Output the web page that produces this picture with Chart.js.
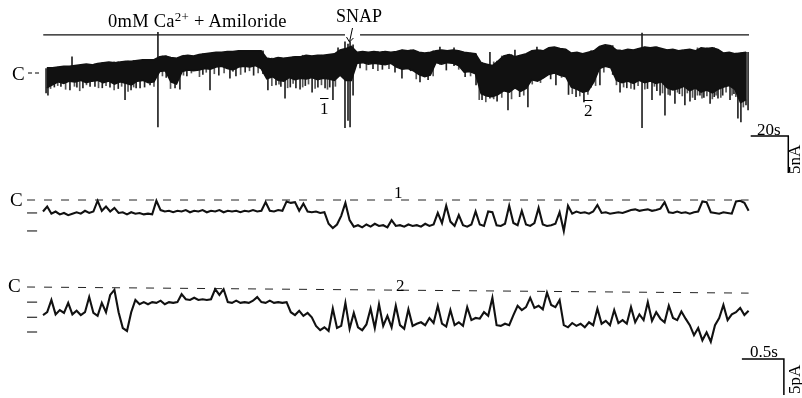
<!DOCTYPE html>
<html>
<head>
<meta charset="utf-8">
<script src="https://cdn.jsdelivr.net/npm/chart.js"></script>
<style>
body { margin: 0; background: #fff; }
#fig { position: relative; width: 802px; height: 398px; overflow: hidden; font-family: "Liberation Serif", "Times New Roman", serif; color: #000; }
.panel { position: absolute; left: 0; }
.lbl { position: absolute; line-height: 1; white-space: nowrap; }
.rot { transform: rotate(-90deg); transform-origin: left top; }
.ov { text-decoration: overline; }
sup { font-size: 70%; vertical-align: 0.5em; line-height: 0; }
</style>
</head>
<body>
<div id="fig">
  <div class="panel" style="top:0;width:802px;height:180px"><canvas id="topChart" width="802" height="180"></canvas></div>
  <div class="panel" style="top:180px;width:802px;height:70px"><canvas id="midChart" width="802" height="70"></canvas></div>
  <div class="panel" style="top:255px;width:802px;height:143px"><canvas id="botChart" width="802" height="143"></canvas></div>

  <div class="lbl" style="left:108px;top:12px;font-size:18.5px;letter-spacing:0.25px">0mM Ca<sup>2+</sup> + Amiloride</div>
  <div class="lbl" style="left:336px;top:7px;font-size:18px">SNAP</div>
  <div class="lbl" style="left:12px;top:64px;font-size:19px">C</div>
  <div class="lbl ov" style="left:320px;top:100px;font-size:17px">1</div>
  <div class="lbl ov" style="left:584px;top:102px;font-size:17px">2</div>
  <div class="lbl" style="left:757px;top:121px;font-size:17px">20s</div>
  <div class="lbl rot" style="left:786px;top:174px;font-size:17px">5nA</div>

  <div class="lbl" style="left:10px;top:190px;font-size:19px">C</div>
  <div class="lbl" style="left:394px;top:184px;font-size:17px">1</div>

  <div class="lbl" style="left:8px;top:276px;font-size:19px">C</div>
  <div class="lbl" style="left:396px;top:277px;font-size:17px">2</div>
  <div class="lbl" style="left:750px;top:343px;font-size:17px">0.5s</div>
  <div class="lbl rot" style="left:786px;top:394px;font-size:17px">5pA</div>
</div>
<script>
// ---- data: top record (nA), 3 s bins, band top / band bottom ----
var topBinSec = 3;
var topHi = [0.7,0.7,0.8,0.9,0.9,1.0,1.1,1.2,1.1,1.3,1.4,1.5,1.4,1.5,1.6,1.6,1.7,1.8,1.8,1.8,
  2.2,2.3,2.1,2.0,2.3,2.4,2.3,2.5,2.6,2.7,2.8,2.8,2.9,2.9,3.0,3.0,3.0,3.0,3.0,2.0,
  1.9,2.1,2.0,2.1,2.2,2.2,2.4,2.3,2.4,2.4,2.5,2.6,3.1,3.3,3.6,2.8,2.9,2.8,2.9,2.8,
  2.9,2.8,2.9,3.1,3.0,3.1,2.8,2.7,2.8,3.0,3.1,3.0,3.1,3.0,2.8,2.7,2.6,1.4,1.2,1.0,
  1.6,2.3,2.5,2.2,2.4,2.6,3.0,3.1,3.0,3.4,3.5,3.3,3.2,2.7,2.8,2.6,2.8,3.0,3.6,3.8,
  3.7,3.1,3.0,3.2,3.1,3.3,3.5,3.4,3.5,3.3,3.1,3.2,3.0,3.1,3.2,3.0,3.4,3.3,3.4,3.2,
  2.7,2.8,2.6,2.7,2.8];
var topLo = [-2.0,-1.6,-1.2,-1.4,-1.1,-1.2,-1.0,-1.3,-1.1,-1.0,-1.3,-1.1,-1.5,-1.2,-1.4,-1.6,-1.1,-1.0,-1.3,-1.2,
  0.2,0.3,-1.2,-1.5,0.2,0.4,0.3,0.4,0.6,0.5,0.8,0.9,0.6,0.4,0.8,0.9,0.8,1.0,0.6,-0.8,
  -0.5,-1.0,-1.1,-0.6,-0.9,-0.7,-0.8,-0.6,-0.9,-0.7,-0.8,-1.0,-0.3,-1.0,-1.0,1.3,1.4,1.2,1.3,1.2,
  1.1,1.3,0.8,0.5,0.6,0.3,-0.2,-0.5,-0.3,1.4,1.2,1.4,1.3,1.0,0.1,0.2,-0.1,-2.8,-3.1,-3.2,
  -2.9,-2.4,-2.6,-2.0,-2.5,-2.1,-0.9,-1.1,-0.7,-0.2,0.0,-0.3,-0.5,-1.9,-2.2,-2.6,-2.4,-1.2,0.6,0.9,
  0.7,-1.0,-1.3,-1.1,-1.4,-1.0,-1.3,-1.1,-1.4,-1.2,-2.0,-2.3,-2.1,-1.8,-2.4,-2.0,-2.6,-2.3,-2.7,-2.2,
  -1.9,-1.7,-2.2,-4.0,-3.6];

// single spikes / artefacts on the top record: time (s), bottom (nA), top (nA)
var spikeT  = [1.1,2.1,13.8,14.9,20.7,27.1,35.1,43.1,46.3,51.1,56.4,60.6,69.7,72.3,80.9,88.3,98.9,102.1,119.1,123.4,
  128.2,134.0,136.2,142.6,145.7,149.5,153.7,156.4,160.1,161.7,162.8,164.4,168.1,186.7,190.4,200.0,204.3,210.6,218.1,229.8,
  237.2,246.8,250.5,257.4,262.2,272.3,287.2,295.7,306.4,318.1,323.4,327.7,330.3,335.6,340.9,343.6,346.3,348.9,354.3,358.5,
  364.9,369.1,370.7,373.4,374.5,
  5.5,9.0,17.5,24.5,31.0,39.5,49.0,53.5,65.0,76.0,84.5,93.0,107.0,111.5,116.5,126.0,131.0,139.0,152.0,175.0,
  180.0,195.0,214.0,224.0,233.0,241.0,253.0,266.0,269.5,279.0,283.0,291.0,300.0,302.5,310.0,314.0,321.0,326.0,333.0,338.0,
  351.0,356.5,361.0,367.0];
var spikeLo = [-2.7,-3.0,-2.3,-0.3,-2.0,-1.8,-1.9,-3.6,-2.3,-2.0,-1.6,-7.3,-2.0,-2.2,0.3,-2.3,-0.7,-0.4,-2.3,-1.6,
  -3.4,-2.0,-2.2,-2.6,-1.9,-2.0,-3.6,-0.5,-7.4,-6.4,-7.3,-3.0,0.7,0.1,-0.7,-1.2,-0.9,1.2,1.0,-1.6,
  -3.4,-5.0,-2.0,-4.6,-0.8,-1.6,-3.9,-1.6,-2.6,-7.4,-3.6,-3.0,-5.7,-4.1,-4.3,-3.8,-3.6,-3.0,-4.1,-3.4,
  -3.6,-6.1,-6.6,-4.3,-5.0,
  -1.9,-1.8,-1.9,-1.8,-2.0,-2.1,-2.0,-1.9,-0.6,-0.4,-0.2,-0.3,0.1,-0.3,-0.1,-1.8,-1.9,-1.7,-1.9,0.6,
  0.5,0.3,0.4,-0.5,-3.6,-3.8,-3.2,-0.6,-0.8,-2.9,-3.2,-1.9,1.1,-0.2,-2.0,-2.2,-2.1,-2.4,-3.0,-2.8,
  -3.3,-3.2,-3.0,-2.8];
var spikeHi = [0.6,0.6,0.8,2.2,1.0,1.2,1.3,1.4,1.5,1.5,1.8,5.5,2.0,2.0,2.4,2.6,2.8,2.9,2.0,2.0,
  2.0,2.2,2.2,2.3,2.3,2.4,2.5,3.4,4.2,3.9,4.2,3.8,2.8,2.9,3.1,2.8,2.8,3.5,3.4,2.6,
  2.8,2.5,3.1,2.6,3.5,3.4,2.6,3.0,3.1,5.4,3.4,3.2,3.2,3.1,3.1,3.0,3.0,3.0,3.3,3.0,
  2.8,2.6,2.7,2.8,2.8,
  0.7,0.9,1.0,1.1,1.4,1.5,1.7,1.8,2.3,2.4,2.6,2.8,3.0,3.0,3.0,2.0,2.1,2.4,2.5,2.9,
  2.9,3.1,3.0,2.8,1.4,1.6,2.4,3.0,3.4,2.7,2.8,3.0,3.7,3.7,3.2,3.1,3.4,3.5,3.2,3.0,
  3.3,3.4,2.7,2.6];

// fainter short openings along the ragged lower edge of the top record
var fringeT  = [3.5,7.3,11.5,16.2,19.0,22.6,29.0,33.0,37.3,41.3,44.7,47.7,58.5,63.0,67.3,74.2,78.4,82.7,86.3,90.6,
  95.8,100.5,104.6,109.3,113.9,121.2,125.0,129.6,132.5,137.6,140.7,144.2,147.6,150.8,155.0,171.5,177.6,183.5,198.0,207.0,
  220.6,226.9,231.5,235.0,239.2,243.5,248.7,255.2,259.7,264.1,275.3,281.0,285.0,289.3,293.4,297.8,304.5,308.3,312.2,316.0,
  319.6,324.7,329.0,332.0,337.0,339.5,342.2,345.0,347.6,350.0,352.6,355.5,357.5,360.0,362.8,366.0,368.0,372.0];
var fringeLo = [-2.1,-1.7,-2.2,-1.8,-2.4,-1.6,-2.0,-1.7,-2.3,-1.8,-2.5,-1.9,-1.8,-0.4,-2.1,-0.3,0.0,-0.5,0.1,-0.1,
  0.0,0.2,-0.2,0.3,0.0,-1.7,-1.5,-2.0,-1.4,-1.9,-1.5,-2.1,-1.6,-2.2,-1.8,0.4,0.3,0.6,-0.8,-0.4,
  0.5,-0.4,-3.6,-3.9,-3.5,-3.3,-3.5,-3.0,-1.5,-1.3,-0.6,-2.8,-3.1,-2.9,-1.7,0.1,-1.6,-1.9,-2.1,-1.7,
  -2.2,-1.8,-2.7,-2.9,-2.6,-3.1,-2.7,-3.3,-3.0,-3.4,-3.1,-3.5,-3.0,-3.3,-2.6,-3.0,-3.2,-4.6];
var fringeHi = [0.7,0.8,0.9,1.0,1.0,1.1,1.3,1.4,1.5,1.5,1.6,1.7,1.8,2.3,2.1,2.4,2.3,2.5,2.6,2.7,
  2.8,2.9,3.0,3.0,3.0,2.0,2.1,2.1,2.2,2.4,2.3,2.4,2.4,2.5,2.6,2.8,2.9,2.8,2.8,3.0,
  3.0,2.7,1.3,1.1,1.5,2.3,2.5,2.5,3.0,3.1,3.3,2.7,2.6,2.8,3.0,3.6,3.1,3.0,3.1,3.3,
  3.5,3.5,3.2,3.2,3.0,3.1,3.2,3.0,3.4,3.3,3.4,3.4,3.2,2.7,2.8,2.6,2.7,2.7];

// ---- data: expanded records (pA), one value every 0.05 s ----
var sampleSec = 0.05;
var trace1 = [-1.6,-0.9,-1.9,-1.6,-2.0,-1.8,-2.1,-1.9,-1.7,-1.9,-1.5,-1.8,-1.6,-0.1,-1.5,-0.9,-1.6,-1.1,-1.8,-1.7,
  -2.0,-1.7,-1.9,-1.8,-2.0,-1.9,-2.0,-0.1,-1.4,-1.6,-1.5,-1.7,-1.5,-1.6,-1.4,-1.7,-1.5,-1.6,-1.4,-1.7,
  -1.5,-1.6,-1.4,-1.7,-1.5,-1.6,-1.5,-1.7,-1.5,-1.6,-1.4,-1.6,-1.5,-0.3,-1.5,-1.6,-1.4,-1.5,-0.2,-0.4,
  -0.3,-1.5,-0.5,-1.6,-1.7,-1.6,-1.8,-1.7,-3.3,-3.9,-3.4,-2.2,-0.4,-2.8,-3.7,-3.5,-3.8,-3.4,-3.7,-3.3,
  -3.6,-3.5,-3.8,-2.8,-3.6,-3.5,-3.7,-3.4,-3.6,-3.5,-3.7,-3.3,-3.6,-3.4,-1.8,-3.2,-0.8,-3.0,-3.6,-2.1,
  -3.5,-3.7,-3.4,-1.6,-3.4,-3.6,-1.6,-1.7,-3.5,-3.6,-3.3,-0.8,-3.2,-3.5,-1.5,-3.4,-3.6,-3.2,-1.1,-3.4,
  -3.6,-3.5,-3.3,-1.7,-4.3,-0.8,-1.9,-1.6,-1.8,-1.7,-1.9,-1.6,-0.7,-1.8,-1.7,-1.9,-1.8,-1.7,-1.8,-1.6,
  -1.4,-1.3,-1.5,-1.4,-1.3,-1.5,-1.4,-1.2,-0.3,-1.7,-1.8,-1.6,-1.8,-1.7,-1.9,-1.7,-1.6,-0.2,-0.3,-1.7,
  -1.8,-1.9,-1.7,-1.8,-1.9,-0.2,-0.1,-0.4,-1.5];
var trace2 = [-3.9,-3.5,-1.8,-3.8,-3.2,-3.6,-2.2,-3.8,-3.3,-3.9,-3.5,-1.4,-3.6,-4.0,-2.2,-3.5,-1.1,-0.4,-3.5,-5.7,
  -6.1,-3.5,-1.8,-2.4,-2.1,-2.4,-2.1,-2.2,-1.9,-2.4,-2.1,-2.2,-2.1,-1.0,-1.7,-1.8,-1.5,-1.8,-1.7,-1.8,
  -1.7,-0.3,-1.1,-0.3,-2.1,-2.2,-1.9,-2.2,-2.1,-2.2,-1.9,-1.4,-2.1,-2.2,-1.9,-2.2,-2.1,-2.2,-2.1,-3.5,
  -3.9,-3.3,-4.0,-3.6,-4.2,-5.4,-6.0,-5.6,-6.1,-3.0,-5.7,-5.4,-2.2,-5.8,-3.6,-5.6,-6.0,-5.2,-3.0,-5.7,
  -2.4,-5.4,-4.0,-5.6,-2.6,-5.3,-5.8,-3.1,-5.4,-5.1,-4.9,-5.3,-4.3,-5.0,-2.6,-5.1,-5.5,-3.2,-5.3,-4.9,
  -5.4,-2.8,-4.6,-4.3,-4.4,-3.5,-4.0,-1.5,-5.3,-5.4,-5.1,-5.3,-3.9,-2.6,-3.2,-2.8,-1.5,-2.9,-2.6,-3.1,
  -0.8,-2.5,-2.8,-1.8,-5.3,-5.6,-5.0,-5.4,-5.1,-5.6,-4.9,-5.3,-3.0,-5.1,-4.7,-5.3,-3.2,-5.0,-4.6,-5.1,
  -2.8,-4.9,-3.8,-4.6,-2.1,-4.7,-3.5,-4.4,-4.9,-2.6,-4.3,-4.6,-3.4,-4.4,-5.3,-6.7,-5.7,-7.4,-6.3,-7.6,
  -5.3,-4.3,-2.5,-4.6,-3.8,-3.5,-2.9,-3.9,-3.3];

// channel levels marked at the left, closed level (start, end), scale bars
var levels1 = [-1.8, -4.3];
var levels2 = [-2.1, -4.2, -6.25];
var closed2 = [0, -0.85];
var topBarSec = 20, topBarNA = 5;
var expBarSec = 0.5, expBarPA = 5;
var drugLevel = 5.14;

// ---- layout (pixels) ----
var W = 802;
function xRange(originPx, pxPerUnit) { return [-originPx / pxPerUnit, (W - originPx) / pxPerUnit]; }
function yRange(zeroPx, pxPerUnit, h) { var mx = zeroPx / pxPerUnit; return [mx - h / pxPerUnit, mx]; }
function scales(xr, yr) {
  return {
    x: { type: 'linear', display: false, min: xr[0], max: xr[1], offset: false },
    y: { type: 'linear', display: false, min: yr[0], max: yr[1] }
  };
}
function seg(points, extra) {
  return Object.assign({
    type: 'line',
    data: points.map(function (p) { return { x: p[0], y: p[1] }; }),
    borderColor: '#000', borderWidth: 1, pointRadius: 0, fill: false, tension: 0
  }, extra || {});
}
function ticks(ts, los, his, color) {
  return {
    data: ts.map(function (t, i) { return { x: t, y: [los[i], his[i]] }; }),
    backgroundColor: color, barThickness: 1, grouped: false, borderWidth: 0
  };
}
var baseOpts = {
  responsive: false, animation: false, events: [],
  layout: { padding: 0 },
  plugins: { legend: { display: false }, tooltip: { enabled: false }, filler: { propagate: false } }
};

// ---- top record ----
var topX = xRange(44, 1.88), topY = yRange(73, 7.4, 180);
var tEnd = topHi.length * topBinSec;
var binMid = topHi.map(function (h, i) { return (i + 0.5) * topBinSec; });
var drugStyle = { borderColor: '#111', borderWidth: 1.2 };
new Chart(document.getElementById('topChart'), {
  type: 'bar',
  data: {
    datasets: [
      seg(binMid.map(function (t, i) { return [t, topLo[i]]; }), { borderColor: '#111', borderWidth: 1.5 }),
      seg(binMid.map(function (t, i) { return [t, topHi[i]]; }), { borderColor: '#111', borderWidth: 1.5, fill: '-1', backgroundColor: '#111' }),
      ticks(fringeT, fringeLo, fringeHi, '#555'),
      ticks(spikeT, spikeLo, spikeHi, '#222'),
      seg([[-0.4, drugLevel], [160.1, drugLevel]], drugStyle),
      seg([[168.1, drugLevel], [tEnd, drugLevel]], drugStyle),
      seg([[164.1, 6.08], [162.5, 4.19]]),
      seg([[160.9, 4.86], [162.5, 4.19], [164.6, 4.73]]),
      seg([[-8.5, 0], [-2.1, 0]], { borderDash: [4, 3] }),
      seg([[tEnd + 0.9, -8.5], [tEnd + 0.9 + topBarSec, -8.5], [tEnd + 0.9 + topBarSec, -8.5 - topBarNA]], { borderWidth: 1.5 })
    ]
  },
  options: Object.assign({ scales: scales(topX, topY) }, baseOpts)
});

// ---- expanded records ----
function expanded(id, trace, levels, closed, zeroPx, h, withBar) {
  var end = (trace.length - 1) * sampleSec;
  var ds = [
    seg(trace.map(function (v, k) { return [k * sampleSec, v]; }), { borderColor: '#111', borderWidth: 2.1 }),
    seg([[-0.19, closed[0]], [end, closed[1]]], { borderDash: [8, 9], borderColor: '#222' })
  ];
  levels.forEach(function (v) { ds.push(seg([[-0.19, v], [-0.07, v]])); });
  if (withBar) {
    ds.push(seg([[8.32, -10], [8.32 + expBarSec, -10], [8.32 + expBarSec, -10 - expBarPA]], { borderWidth: 1.5 }));
  }
  new Chart(document.getElementById(id), {
    type: 'line',
    data: { datasets: ds },
    options: Object.assign({ scales: scales(xRange(43, 84), yRange(zeroPx, 7.2, h)) }, baseOpts)
  });
}
expanded('midChart', trace1, levels1, [0, 0], 20, 70, false);
expanded('botChart', trace2, levels2, closed2, 32, 143, true);
</script>
</body>
</html>
